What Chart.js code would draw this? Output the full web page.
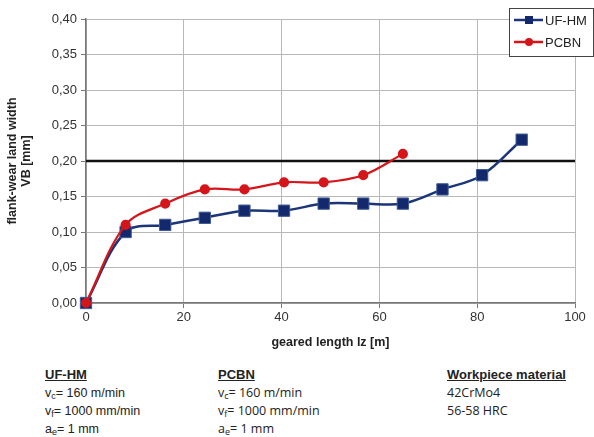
<!DOCTYPE html>
<html>
<head>
<meta charset="utf-8">
<script src="https://cdn.jsdelivr.net/npm/chart.js@4"></script>
<style>
  body { margin: 0; background: #fff; font-family: "Liberation Sans", Arial, sans-serif; }
  #wrap { position: absolute; left: 0; top: 0; width: 594px; height: 350px; }
  .col { position: absolute; top: 366px; font-size: 12.5px; line-height: 18px; color: #222; }
  .col b { text-decoration: underline; font-size: 13px; }
  .col sub { font-size: 9px; vertical-align: -2px; line-height: 0; }
  .calibri { font-family: "Open Sans", "Liberation Sans", sans-serif; font-size: 12.5px; }
</style>
</head>
<body>
<div id="wrap"><canvas id="myChart" width="594" height="350"></canvas></div>

<div class="col" style="left:45px">
  <b>UF-HM</b><br>
  v<sub>c</sub>= 160 m/min<br>
  v<sub>f</sub>= 1000 mm/min<br>
  a<sub>e</sub>= 1 mm
</div>
<div class="col calibri" style="left:218px">
  <b style="font-family:'Liberation Sans',sans-serif">PCBN</b><br>
  v<sub>c</sub>= 160 m/min<br>
  v<sub>f</sub>= 1000 mm/min<br>
  a<sub>e</sub>= 1 mm
</div>
<div class="col calibri" style="left:447px">
  <b style="font-family:'Liberation Sans',sans-serif">Workpiece material</b><br>
  42CrMo4<br>
  56-58 HRC
</div>

<script>
// data
let ufX = [0, 8.1, 16.2, 24.3, 32.4, 40.5, 48.6, 56.7, 64.8, 72.9, 81, 89.1];
let ufVB = [0, 0.10, 0.11, 0.12, 0.13, 0.13, 0.14, 0.14, 0.14, 0.16, 0.18, 0.23];
let pcbnX = [0, 8.1, 16.2, 24.3, 32.4, 40.5, 48.6, 56.7, 64.8];
let pcbnVB = [0, 0.11, 0.14, 0.16, 0.16, 0.17, 0.17, 0.18, 0.21];
let limitVB = 0.20;
let xTicks = [0, 20, 40, 60, 80, 100];
let yTicks = [0, 0.05, 0.10, 0.15, 0.20, 0.25, 0.30, 0.35, 0.40];

let blue = '#1b3578';
let red = '#d4161b';

function toPoints(xs, ys) {
  let pts = [];
  for (let i = 0; i < xs.length; i++) {
    pts.push({ x: xs[i], y: ys[i] });
  }
  return pts;
}

// legend box drawn on the canvas, like the excel one
let boxLegend = {
  id: 'boxLegend',
  afterDraw(chart) {
    let ctx = chart.ctx;
    let items = chart.data.datasets.filter(d => d.legendPos !== undefined)
      .sort((a, b) => a.legendPos - b.legendPos);
    ctx.save();
    ctx.fillStyle = '#fff';
    ctx.fillRect(509.5, 8.5, 84, 48);
    ctx.strokeStyle = '#444';
    ctx.lineWidth = 1;
    ctx.strokeRect(509.5, 8.5, 84, 48);
    items.forEach((d, i) => {
      let y = 20 + i * 22;
      ctx.strokeStyle = d.borderColor;
      ctx.lineWidth = 2.5;
      ctx.beginPath();
      ctx.moveTo(514, y);
      ctx.lineTo(543, y);
      ctx.stroke();
      ctx.fillStyle = d.pointBackgroundColor;
      if (d.pointStyle === 'rect') {
        ctx.fillRect(525, y - 4, 8, 8);
      } else {
        ctx.beginPath();
        ctx.arc(529, y, 4, 0, Math.PI * 2);
        ctx.fill();
      }
      ctx.fillStyle = '#222';
      ctx.font = '13px "Liberation Sans", Arial, sans-serif';
      ctx.textBaseline = 'middle';
      ctx.fillText(d.label, 545, y + 1);
    });
    ctx.restore();
  }
};

let ctx = document.getElementById('myChart').getContext('2d');
let myChart = new Chart(ctx, {
  type: 'scatter',
  data: {
    datasets: [{
      label: 'PCBN',
      legendPos: 1,
      data: toPoints(pcbnX, pcbnVB),
      showLine: true,
      borderColor: red,
      borderWidth: 2.2,
      tension: 0.35,
      pointStyle: 'circle',
      pointRadius: 4,
      pointBackgroundColor: red,
      pointBorderColor: red,
      clip: false,
      order: 0
    },
    {
      label: 'UF-HM',
      legendPos: 0,
      data: toPoints(ufX, ufVB),
      showLine: true,
      borderColor: blue,
      borderWidth: 2.5,
      tension: 0.35,
      pointStyle: 'rect',
      pointRadius: 8,
      pointBackgroundColor: '#14296b',
      pointBorderColor: '#3d5b9a',
      pointBorderWidth: 1,
      clip: false,
      order: 1
    },
    {
      label: 'limit',
      data: [{ x: 0, y: limitVB }, { x: 100, y: limitVB }],
      showLine: true,
      borderColor: '#111',
      borderWidth: 2.5,
      pointRadius: 0,
      order: 2
    }]
  },
  options: {
    responsive: false,
    animation: false,
    layout: { padding: { top: 19, right: 19, left: 6, bottom: 0 } },
    plugins: { legend: { display: false }, tooltip: { enabled: false } },
    scales: {
      x: {
        type: 'linear',
        min: 0,
        max: 100,
        afterBuildTicks: (scale) => { scale.ticks = xTicks.map(v => ({ value: v })); },
        afterFit: (scale) => { scale.height = 47; },
        grid: { color: '#b8b8b8', lineWidth: 1, tickLength: 5, tickColor: '#777' },
        border: { color: '#777', width: 1.5 },
        ticks: {
          color: '#333',
          font: { size: 13, family: '"Liberation Sans", Arial, sans-serif' },
          padding: 2
        },
        title: {
          display: true,
          text: 'geared length lz [m]',
          color: '#222',
          font: { size: 12.5, weight: 'bold', family: '"Liberation Sans", Arial, sans-serif' },
          padding: { top: 3, bottom: 0 }
        }
      },
      y: {
        min: 0,
        max: 0.4,
        afterBuildTicks: (scale) => { scale.ticks = yTicks.map(v => ({ value: v })); },
        afterFit: (scale) => { scale.width = 80; },
        grid: { color: '#b8b8b8', lineWidth: 1, tickLength: 5, tickColor: '#777' },
        border: { color: '#777', width: 1.5 },
        ticks: {
          color: '#333',
          font: { size: 13, family: '"Liberation Sans", Arial, sans-serif' },
          padding: 4,
          callback: (v) => v.toFixed(2).replace('.', ',')
        },
        title: {
          display: true,
          text: ['flank-wear land width', 'VB [mm]'],
          color: '#222',
          font: { size: 12.5, weight: 'bold', family: '"Liberation Sans", Arial, sans-serif', lineHeight: 1.1 },
          padding: { top: 0, bottom: 4 }
        }
      }
    }
  },
  plugins: [boxLegend]
});
</script>
</body>
</html>
